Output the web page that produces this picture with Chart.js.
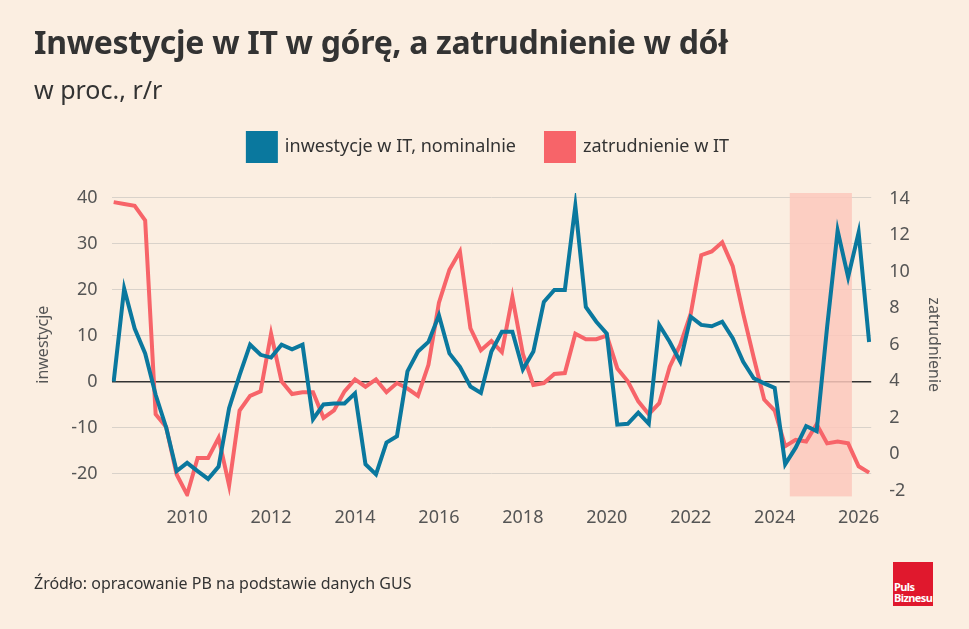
<!DOCTYPE html>
<html><head><meta charset="utf-8">
<script src="https://cdn.jsdelivr.net/npm/chart.js@4"></script>
<style>
  body { margin:0; background:#fbeee1; font-family:"Noto Sans", sans-serif; }
  #wrap { position:relative; width:969px; height:629px; overflow:hidden; }
  #c { position:absolute; left:0; top:0; }
  .title { position:absolute; left:34px; top:20px; font-size:32px; font-weight:bold; color:#333; letter-spacing:-0.3px; }
  .sub { position:absolute; left:34px; top:72px; font-size:25px; color:#333; }
  .src { position:absolute; left:34px; top:572px; font-size:16px; color:#333; }
  .logo { position:absolute; left:893px; top:562px; width:40px; height:44px; background:#e0182d; color:#fff;
          font-size:11px; font-weight:bold; line-height:11px; display:flex; flex-direction:column; justify-content:flex-end; padding:0 0 3px 1px; box-sizing:border-box; letter-spacing:-0.6px; }
</style></head>
<body><div id="wrap">
<canvas id="c" width="969" height="629"></canvas>
<div class="title">Inwestycje w IT w górę, a zatrudnienie w dół</div>
<div class="sub">w proc., r/r</div>
<div class="src">Źródło: opracowanie PB na podstawie danych GUS</div>
<div class="logo"><span>Puls</span><span>Biznesu</span></div>
</div>
<script>
// quarterly series, first point 2008 Q2
var startYear = 2008.25;
var inwestycje = [0, 20.2, 11.5, 6.1, -2.9, -10, -19.5, -17.7, -19.5, -21.2, -18.5, -5.8, 1.4, 8, 5.8, 5.2, 8, 7, 8, -8.2, -5, -4.8, -4.8, -2.6,
  -18, -20.2, -13.3, -11.9, 2.2, 6.5, 8.6, 14.4, 6.1, 3.2, -1.1, -2.5, 6.5, 10.8, 10.8, 2.6, 6.5, 17.3, 19.9, 19.9, 38.2, 16.2, 13, 10.4,
  -9.4, -9.2, -6.8, -9.2, 12.3, 8.6, 4.3, 14.1, 12.3, 12, 13, 9.4, 4.3, 0.7, -0.4, -1.4, -18, -14.4, -9.7, -10.8, 11.9, 32.8, 22.7, 32.4, 8.6];
var zatrudnienie = [13.8, 13.7, 13.6, 12.8, 2.2, 1.5, -1.1, -2.2, -0.2, -0.2, 0.9, -1.7, 2.4, 3.2, 3.45, 6.6, 4.0, 3.3, 3.4, 3.4, 2.0, 2.4, 3.45, 4.1,
  3.7, 4.1, 3.4, 3.9, 3.6, 3.2, 4.9, 8.3, 10.1, 11.1, 6.9, 5.7, 6.2, 5.6, 8.6, 5.5, 3.8, 3.9, 4.4, 4.45, 6.6, 6.3, 6.3, 6.5,
  4.7, 4.0, 2.9, 2.2, 2.8, 4.8, 6.0, 7.7, 10.9, 11.1, 11.6, 10.3, 7.7, 5.3, 3.0, 2.4, 0.45, 0.8, 0.7, 1.65, 0.6, 0.7, 0.6, -0.65, -1.0];
var yearTicks = [2010, 2012, 2014, 2016, 2018, 2020, 2022, 2024, 2026];
var leftTicks = [-20, -10, 0, 10, 20, 30, 40];
var rightTicks = [-2, 0, 2, 4, 6, 8, 10, 12, 14];
var band = [2024.36, 2025.84];

function pts(arr) {
  return arr.map(function(v, i) { return { x: startYear + i / 4, y: v }; });
}

var bandPlugin = {
  id: 'band',
  beforeDatasetsDraw: function(chart) {
    var x = chart.scales.x, a = chart.chartArea, ctx = chart.ctx;
    ctx.save();
    ctx.fillStyle = 'rgba(252,200,188,0.85)';
    ctx.fillRect(x.getPixelForValue(band[0]), a.top, x.getPixelForValue(band[1]) - x.getPixelForValue(band[0]), a.bottom - a.top);
    ctx.restore();
  }
};

// extra gap below the legend
var legendGap = {
  id: 'legendGap',
  beforeInit: function(chart) {
    var fit = chart.legend.fit;
    chart.legend.fit = function() { fit.bind(chart.legend)(); this.height += 22; };
  }
};

var font = { family: '"Noto Sans", sans-serif', size: 18 };
new Chart(document.getElementById('c'), {
  type: 'line',
  data: { datasets: [
    { label: 'inwestycje w IT, nominalnie', data: pts(inwestycje), yAxisID: 'y', borderColor: '#0a789e', backgroundColor: '#0a789e', borderWidth: 4, pointRadius: 0, tension: 0 },
    { label: 'zatrudnienie w IT', data: pts(zatrudnienie), yAxisID: 'y2', borderColor: '#f76469', backgroundColor: '#f76469', borderWidth: 4, pointRadius: 0, tension: 0 }
  ]},
  options: {
    responsive: false, animation: false,
    layout: { padding: { top: 103, left: 30, right: 22, bottom: 97 } },
    plugins: {
      legend: { position: 'top', labels: { boxWidth: 28, boxHeight: 28, padding: 30, color: '#333', font: { family: font.family, size: 18 } } },
      tooltip: { enabled: false }
    },
    scales: {
      x: { type: 'linear', min: 2008.2, max: 2026.3,
        afterBuildTicks: function(s) { s.ticks = yearTicks.map(function(v) { return { value: v }; }); },
        ticks: { color: '#555', font: font, callback: function(v) { return v; } },
        grid: { display: false }, border: { display: false } },
      y: { min: -25, max: 41,
        afterBuildTicks: function(s) { s.ticks = leftTicks.map(function(v) { return { value: v }; }); },
        ticks: { color: '#555', font: font, padding: 14 },
        title: { display: true, text: 'inwestycje', color: '#555', font: { family: font.family, size: 16 } },
        grid: { color: function(c) { return c.tick.value === 0 ? '#333' : '#d9d2ca'; }, lineWidth: function(c) { return c.tick.value === 0 ? 1.5 : 1; }, drawTicks: false },
        border: { display: false } },
      y2: { position: 'right', min: -2.3, max: 14.3,
        afterBuildTicks: function(s) { s.ticks = rightTicks.map(function(v) { return { value: v }; }); },
        ticks: { color: '#555', font: font, padding: 10 },
        title: { display: true, text: 'zatrudnienie', color: '#555', font: { family: font.family, size: 16 } },
        grid: { display: false }, border: { display: false } }
    }
  },
  plugins: [bandPlugin, legendGap]
});
</script>
</body></html>
